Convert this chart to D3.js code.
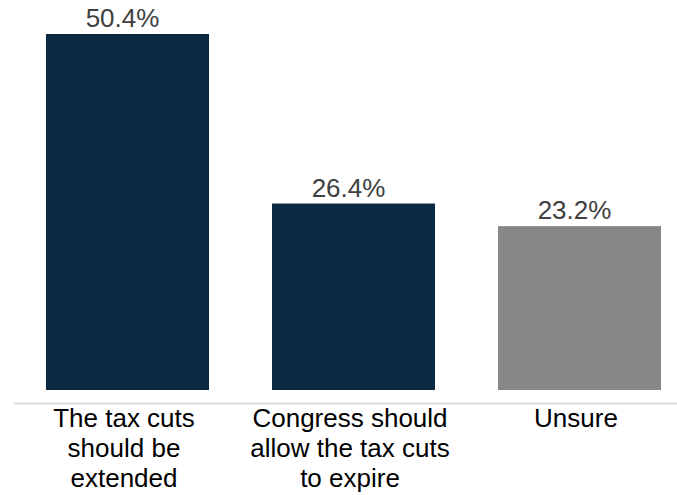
<!DOCTYPE html>
<html>
<head>
<meta charset="utf-8">
<script src="https://cdn.jsdelivr.net/npm/d3@7"></script>
<style>
  html, body { margin: 0; padding: 0; background: #ffffff; }
  svg { display: block; }
  text { font-family: "Liberation Sans", Arial, sans-serif; }
</style>
</head>
<body>
<svg id="chart" width="677" height="495"></svg>
<script>
const categories = [
  ["The tax cuts", "should be", "extended"],
  ["Congress should", "allow the tax cuts", "to expire"],
  ["Unsure"]
];
const values = [50.4, 26.4, 23.2];
const barColors = ["#0c2944", "#0c2944", "#878787"];

const W = 677, H = 495;
const svg = d3.select("#chart");
const baseY = 390, topY = 34;

const keys = categories.map((c, i) => i);
const pInner = 63 / 226;
const x = d3.scaleBand()
  .domain(keys)
  .range([14.5, 692.5])
  .paddingInner(pInner)
  .paddingOuter(pInner / 2);

const y = d3.scaleLinear()
  .domain([0, d3.max(values)])
  .range([baseY, topY]);

// bars
svg.append("g").selectAll("rect")
  .data(values)
  .join("rect")
  .attr("x", (d, i) => x(i))
  .attr("y", d => y(d))
  .attr("width", x.bandwidth())
  .attr("height", d => baseY - y(d))
  .attr("fill", (d, i) => barColors[i]);

// value labels
svg.append("g").selectAll("text")
  .data(values)
  .join("text")
  .attr("x", (d, i) => x(i) + x.bandwidth() / 2 - 5)
  .attr("y", d => y(d) - 7)
  .attr("text-anchor", "middle")
  .attr("font-size", 26)
  .attr("fill", "#404040")
  .text(d => d.toFixed(1) + "%");

// axis line
const axis = d3.axisBottom(x).tickSize(0).tickFormat("");
const axG = svg.append("g").attr("transform", `translate(0,${403.5})`).call(axis);
axG.select(".domain").remove();
axG.append("line")
  .attr("x1", 14).attr("x2", W)
  .attr("y1", 0).attr("y2", 0)
  .attr("stroke", "#d9d9d9").attr("stroke-width", 2);

// category labels
const lab = svg.append("g").selectAll("text")
  .data(categories)
  .join("text")
  .attr("text-anchor", "middle")
  .attr("font-size", 26)
  .attr("fill", "#000000");
lab.each(function(lines, i) {
  const t = d3.select(this);
  lines.forEach((ln, j) => {
    t.append("tspan")
      .attr("x", x(i) + x.bandwidth() / 2 - 3.5)
      .attr("y", 427 + j * 30)
      .text(ln);
  });
});
</script>
</body>
</html>
